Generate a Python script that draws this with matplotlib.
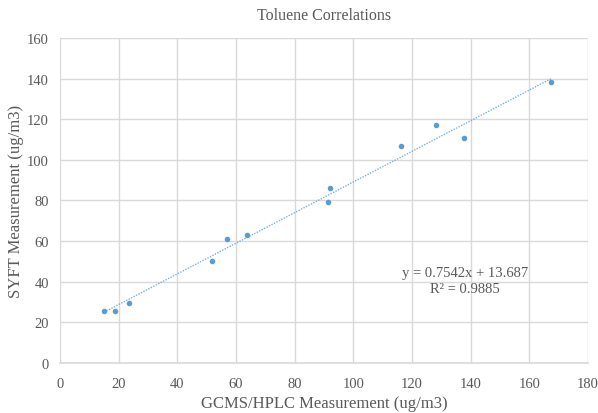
import numpy as np
import matplotlib.pyplot as plt

# Данные
gcms_hplc = [15.0, 18.7, 23.6, 51.9, 56.8, 63.7, 92.0, 91.5, 116.3, 128.3, 137.6, 167.4]
syft = [25.8, 25.8, 29.4, 50.4, 61.0, 63.0, 86.2, 79.1, 106.8, 117.3, 110.8, 138.2]

slope = 0.7542
intercept = 13.687
r_squared = 0.9885

x_ticks = [0, 20, 40, 60, 80, 100, 120, 140, 160, 180]
y_ticks = [0, 20, 40, 60, 80, 100, 120, 140, 160]

text_color = '#595959'
point_color = '#5b9bd5'

plt.rcParams['font.family'] = ['Liberation Serif', 'DejaVu Serif']

fig = plt.figure(figsize=(5.98, 4.14), dpi=100)
ax = fig.add_axes([0.1003, 0.1208, 0.8829, 0.785])

# Точки
ax.scatter(gcms_hplc, syft, s=16, color=point_color, zorder=3, linewidths=0)

# Линия тренда
x_line = np.array([min(gcms_hplc), max(gcms_hplc)])
ax.plot(x_line, slope * x_line + intercept, color=point_color, linestyle=(0, (1, 1)),
        linewidth=1.0, alpha=0.8, zorder=2)

ax.text(138.1, 40.6, f'y = {slope}x + {intercept}\nR² = {r_squared}',
        ha='center', va='center', fontsize=10.5, color=text_color, linespacing=1.25)

ax.set_xlim(0, 180)
ax.set_ylim(0, 160)
ax.set_xticks(x_ticks)
ax.set_yticks(y_ticks)
ax.grid(True, color='#d9d9d9', linewidth=1.0)
ax.set_axisbelow(True)
for side in ['top', 'right', 'left']:
    ax.spines[side].set_visible(False)
ax.spines['bottom'].set_color('#d9d9d9')
ax.spines['bottom'].set_linewidth(1.2)
ax.tick_params(length=0, colors=text_color, labelsize=10.5)
ax.tick_params(axis='x', pad=10)
ax.tick_params(axis='y', pad=8)

ax.set_title('Toluene Correlations', fontsize=11.5, color=text_color, pad=14)
ax.set_xlabel('GCMS/HPLC Measurement (ug/m3)', fontsize=12, color=text_color, labelpad=4)
ax.set_ylabel('SYFT Measurement (ug/m3)', fontsize=12, color=text_color, labelpad=2)

fig.savefig('out.png', dpi=100)
